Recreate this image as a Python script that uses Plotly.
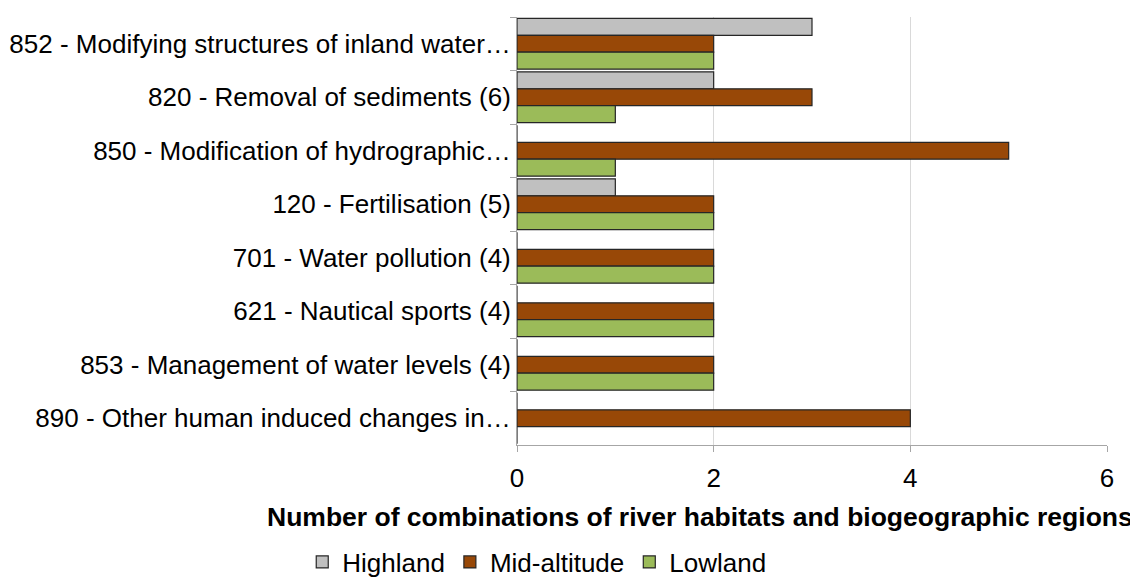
import plotly.graph_objects as go

categories = [
    '852 - Modifying structures of inland water…',
    '820 - Removal of sediments (6)',
    '850 - Modification of hydrographic…',
    '120 - Fertilisation (5)',
    '701 - Water pollution (4)',
    '621 - Nautical sports (4)',
    '853 - Management of water levels (4)',
    '890 - Other human induced changes in…',
]
highland = [3, 2, 0, 1, 0, 0, 0, 0]
mid_altitude = [2, 3, 5, 2, 2, 2, 2, 4]
lowland = [2, 1, 1, 2, 2, 2, 2, 0]

series = [
    ('Highland', highland, '#C0C0C0'),
    ('Mid-altitude', mid_altitude, '#984807'),
    ('Lowland', lowland, '#9BBB59'),
]

x_title = 'Number of combinations of river habitats and biogeographic regions'

fig = go.Figure()
for name, vals, col in series:
    fig.add_trace(go.Bar(
        y=categories, x=vals, name=name, orientation='h',
        marker=dict(color=col, line=dict(color='#262626', width=1.2)),
    ))

# page body has an 8px margin, so the figure is a bit smaller than the window
fig.update_layout(
    barmode='group',
    bargap=0.05,
    bargroupgap=0,
    width=1130, height=570,
    margin=dict(l=509, r=31, t=9, b=133),
    plot_bgcolor='white',
    paper_bgcolor='white',
    font=dict(family='Liberation Sans, Arial, sans-serif', size=26, color='#000000'),
    legend=dict(orientation='h', x=-0.364, xanchor='left',
                yref='container', y=0.028, yanchor='middle',
                font=dict(size=26), traceorder='normal'),
)
# axis title is off-centre in the original, so place it as an annotation
fig.add_annotation(
    text='<b>' + x_title + '</b>', xref='paper', yref='paper',
    x=0.31, y=-0.168, xanchor='center', yanchor='middle',
    showarrow=False, font=dict(size=26.5),
)
fig.update_xaxes(
    range=[0, 6], dtick=2, showgrid=True, gridcolor='#D9D9D9', gridwidth=1,
    showline=True, linecolor='#A6A6A6', ticks='outside', ticklen=6, tickcolor='#A6A6A6',
    zeroline=False, automargin=False, ticklabelstandoff=4,
)
fig.update_yaxes(
    autorange='reversed', showline=True, linecolor='#A6A6A6',
    ticks='outside', ticklen=6, tickcolor='#A6A6A6', tickson='boundaries',
    showgrid=False, automargin=False,
)

fig.write_html('out.html')
